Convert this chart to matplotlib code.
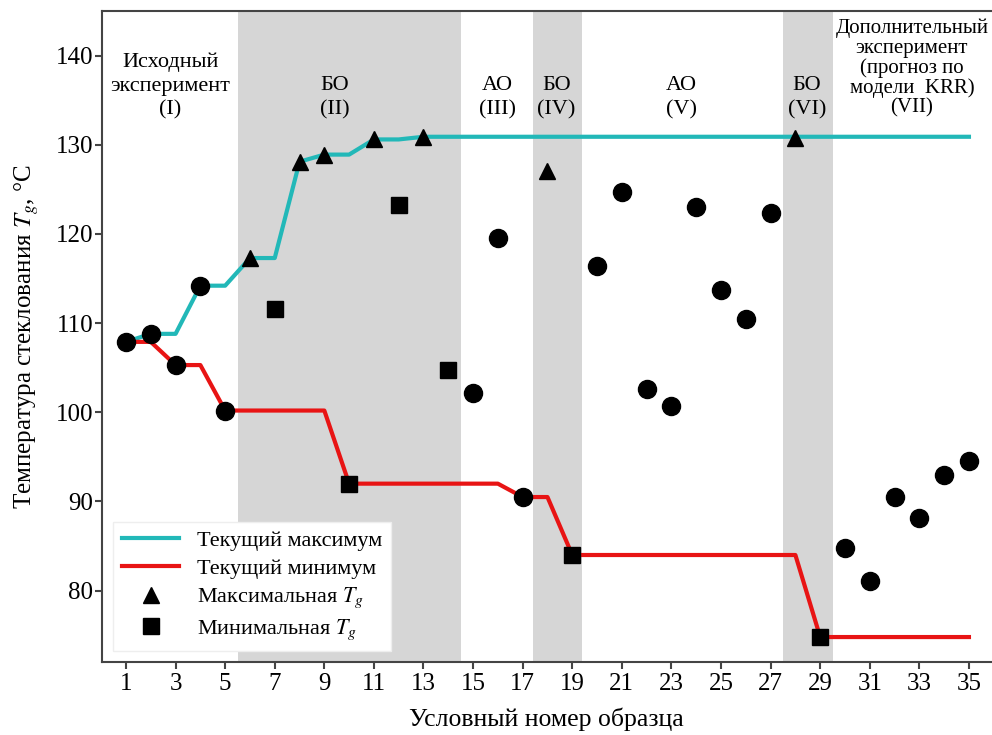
import numpy as np
import matplotlib.pyplot as plt

plt.rcParams['font.family'] = ['Liberation Serif', 'DejaVu Serif']
plt.rcParams['mathtext.fontset'] = 'stix'

# sample number and measured Tg
sample = np.arange(1, 36)
tg = np.array([107.9, 108.8, 105.3, 114.2, 100.2, 117.3, 111.6, 128.1, 128.9, 92.0,
               130.6, 123.2, 130.9, 104.8, 102.2, 119.6, 90.5, 127.1, 84.0, 116.4,
               124.7, 102.6, 100.7, 123.0, 113.7, 110.5, 122.3, 130.8, 74.8, 84.8,
               81.1, 90.5, 88.1, 93.0, 94.5])
# o = regular point, ^ = BO maximisation, s = BO minimisation
kind = ['o', 'o', 'o', 'o', 'o', '^', 's', '^', '^', 's',
        '^', 's', '^', 's', 'o', 'o', 'o', '^', 's', 'o',
        'o', 'o', 'o', 'o', 'o', 'o', 'o', '^', 's', 'o',
        'o', 'o', 'o', 'o', 'o']

run_max = np.maximum.accumulate(tg)
run_min = np.minimum.accumulate(tg)

bo_spans = [(5.5, 14.5), (17.4, 19.4), (27.5, 29.5)]
stage_x = [2.78, 9.43, 15.97, 18.37, 23.4, 28.46]
stage_y = [136.6, 135.3, 135.3, 135.3, 135.3, 135.3]
stage_txt = ['Исходный\nэксперимент\n(I)', 'БО\n(II)', 'АО\n(III)', 'БО\n(IV)',
             'АО\n(V)', 'БО\n(VI)']
extra_txt = 'Дополнительный\nэксперимент\n(прогноз по\nмодели  KRR)\n(VII)'

fig = plt.figure(figsize=(9.92, 7.35), dpi=100)
ax = fig.add_axes([0.1025, 0.0993, 0.8975, 0.8857])

for a, b in bo_spans:
    ax.axvspan(a, b, color='#d6d6d6', lw=0, zorder=0)

ax.plot(sample, run_max, color='#22b8b8', lw=3, zorder=2, label='Текущий максимум')
ax.plot(sample, run_min, color='#e81414', lw=3, zorder=2, label='Текущий минимум')

tg_kind = np.array(kind)
for m, sz in [('o', 13), ('^', 12), ('s', 12)]:
    sel = tg_kind == m
    ax.plot(sample[sel], tg[sel], ls='none', marker=m, ms=sz, color='black', zorder=3)

# legend-only marker handles
ax.plot([], [], ls='none', marker='^', ms=12, color='black', label='Максимальная $T_g$')
ax.plot([], [], ls='none', marker='s', ms=12, color='black', label='Минимальная $T_g$')

for x, y, t in zip(stage_x, stage_y, stage_txt):
    ax.text(x, y, t, ha='center', va='center', fontsize=16, linespacing=1.35)
ax.text(32.7, 138.6, extra_txt, ha='center', va='center', fontsize=15, linespacing=1.02)

ax.set_xlim(0.02, 35.93)
ax.set_ylim(72, 145)
ax.set_xticks(np.arange(1, 36, 2))
ax.set_yticks(np.arange(80, 141, 10))
ax.tick_params(labelsize=18, length=5, width=1.5, color='#444444')
ax.tick_params(axis='x', pad=3)
ax.tick_params(axis='y', pad=1)
for side in ['left', 'bottom', 'top']:
    ax.spines[side].set_linewidth(1.5)
    ax.spines[side].set_color('#444444')
ax.spines['right'].set_visible(False)

ax.set_xlabel('Условный номер образца', fontsize=18.5, labelpad=9)
ax.set_ylabel('Температура стеклования $T_g$, °C', fontsize=18, labelpad=11)

leg = ax.legend(loc='lower left', bbox_to_anchor=(0.0, 0.0), borderaxespad=0.5,
                fontsize=16, handlelength=2.6, frameon=True, fancybox=False,
                edgecolor='#eeeeee', framealpha=1, labelspacing=0.32,
                borderpad=0.4)

plt.savefig('out.png', dpi=100)
